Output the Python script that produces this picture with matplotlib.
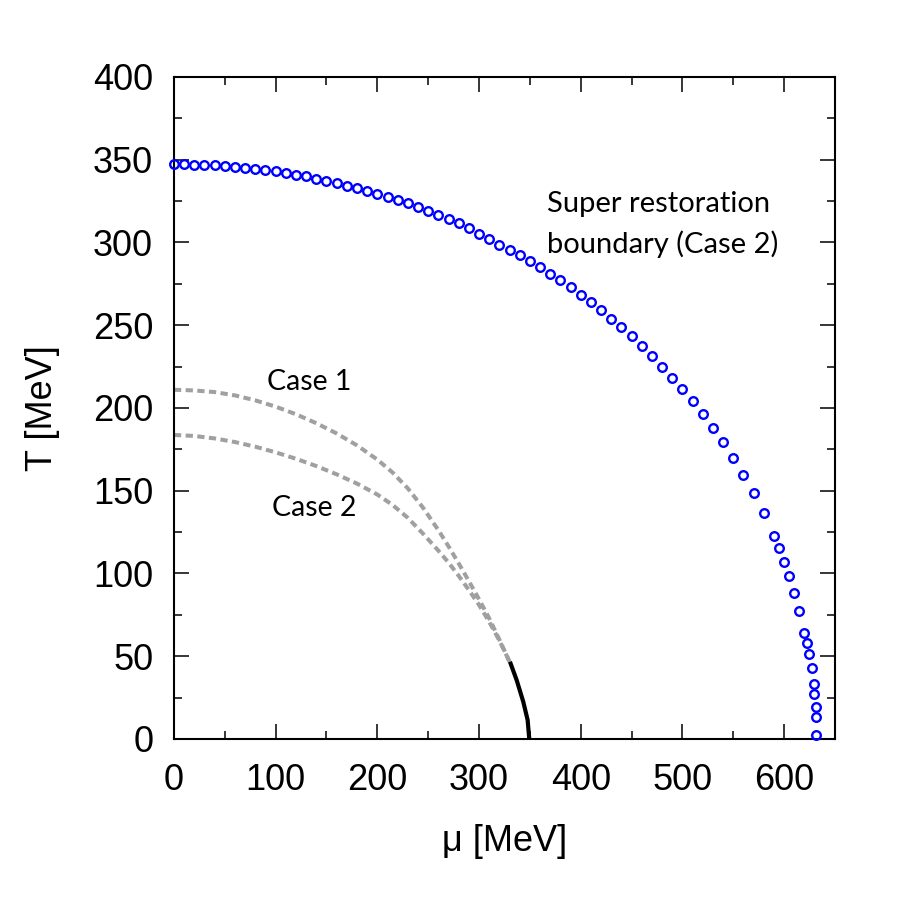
import matplotlib
matplotlib.use("Agg")
import matplotlib.pyplot as plt
from matplotlib.ticker import MultipleLocator

# super restoration boundary (Case 2), blue open circles
mu_sr = [0, 10, 20, 30, 40, 50, 60, 70, 80, 90, 100, 110, 120, 130, 140,
         150, 160, 170, 180, 190, 200, 210, 220, 230, 240, 250, 260, 270, 280,
         290, 300, 310, 320, 330, 340, 350, 360, 370, 380, 390, 400, 410, 420,
         430, 440, 450, 460, 470, 480, 490, 500, 510, 520, 530, 540, 550, 560,
         570, 580, 590, 595, 600, 605, 610, 615, 620, 622.5, 624.5, 627,
         629, 629.5, 631, 631, 631.5]
T_sr = [347.2, 347.2, 347.0, 346.8, 346.6, 346.2, 345.8, 345.2, 344.4, 343.8,
        343.0, 342.0, 341.0, 340.0, 338.6, 337.4, 335.8, 334.3, 332.9, 331.3,
        329.3, 327.7, 325.9, 323.9, 321.5, 319.0, 316.6, 314.2, 311.6,
        308.5, 305.3, 302.0, 298.5, 295.5, 292.4, 289.0, 285.0, 281.0, 277.1,
        272.9, 268.3, 263.8, 259.0, 254.0, 248.7, 243.3, 237.5, 231.4, 225.0,
        218.0, 211.5, 204.2, 196.4, 188.1, 179.4, 169.8, 159.7, 148.4, 136.4,
        122.9, 115.2, 107.1, 98.4, 88.4, 77.3, 64.2, 57.8, 51.2, 43.1,
        33.4, 27.2, 19.2, 13.5, 2.4]

# Case 1 / Case 2 crossover lines (grey dashed)
mu_c1 = [0, 20, 40, 60, 80, 100, 120, 140, 160, 180, 200, 215, 230, 245,
         260, 270, 280, 290, 300, 310, 320, 330]
T_c1 = [211.0, 210.6, 209.6, 207.6, 204.6, 200.8, 196.2, 190.8, 184.6, 177.4,
        168.8, 161.0, 151.4, 139.7, 126.2, 116.4, 106.1, 95.4, 84.4, 72.9,
        60.0, 46.7]
mu_c2 = [0, 20, 40, 60, 80, 100, 120, 140, 160, 180, 200, 215, 230, 245,
         260, 270, 280, 290, 300, 310, 320, 330]
T_c2 = [183.7, 183.1, 181.6, 179.4, 176.6, 173.2, 169.3, 164.9, 159.9, 154.3,
        147.7, 141.4, 133.6, 124.0, 113.8, 106.6, 98.6, 90.0, 81.0, 70.8,
        59.5, 46.7]

# first order line (solid black)
mu_1st = [330.4, 337, 343.5, 347.8, 349.4]
T_1st = [46.7, 35.6, 22.5, 11.5, 0.0]

fig = plt.figure(figsize=(9, 9), dpi=100)
ax = fig.add_axes([0.1933, 0.1789, 0.7344, 0.7356])

ax.plot(mu_c1, T_c1, color="#a0a0a0", lw=2.9, dashes=(1.8, 1.1))
ax.plot(mu_c2, T_c2, color="#a0a0a0", lw=2.9, dashes=(1.8, 1.1))
ax.plot(mu_1st, T_1st, color="black", lw=3.0, solid_capstyle="butt")
ax.plot(mu_sr, T_sr, "o", mfc="none", mec="blue", ms=6.2, mew=1.7,
        clip_on=False, zorder=5)

ax.set_xlim(0, 650)
ax.set_ylim(0, 400)
ax.xaxis.set_major_locator(MultipleLocator(100))
ax.xaxis.set_minor_locator(MultipleLocator(50))
ax.yaxis.set_major_locator(MultipleLocator(50))
ax.yaxis.set_minor_locator(MultipleLocator(25))

tick_font = "Liberation Sans"
ax.tick_params(which="both", direction="in", top=True, right=True, width=1.1)
ax.tick_params(which="major", length=10.8)
ax.tick_params(which="minor", length=5.5)
ax.tick_params(axis="x", which="major", pad=17)
ax.tick_params(axis="y", which="major", pad=15)
for lab in ax.get_xticklabels() + ax.get_yticklabels():
    lab.set_fontfamily(tick_font)
    lab.set_fontsize(26)
for sp in ax.spines.values():
    sp.set_linewidth(1.5)

ax.set_xlabel("μ [MeV]", fontsize=26, family=tick_font)
ax.set_ylabel("T [MeV]", fontsize=26, family=tick_font)
ax.xaxis.set_label_coords(0.5, -0.128)
ax.yaxis.set_label_coords(-0.172, 0.5)

note_font = "Lato"
ax.text(366.8, 318.4, "Super restoration", fontsize=21, family=note_font,
        ha="left", va="baseline")
ax.text(366.8, 293.7, "boundary (Case 2)", fontsize=21, family=note_font,
        ha="left", va="baseline")
ax.text(91.4, 210.9, "Case 1", fontsize=20.5, family=note_font,
        ha="left", va="baseline")
ax.text(96.4, 134.9, "Case 2", fontsize=20.5, family=note_font,
        ha="left", va="baseline")

fig.savefig("out.png", dpi=100)
